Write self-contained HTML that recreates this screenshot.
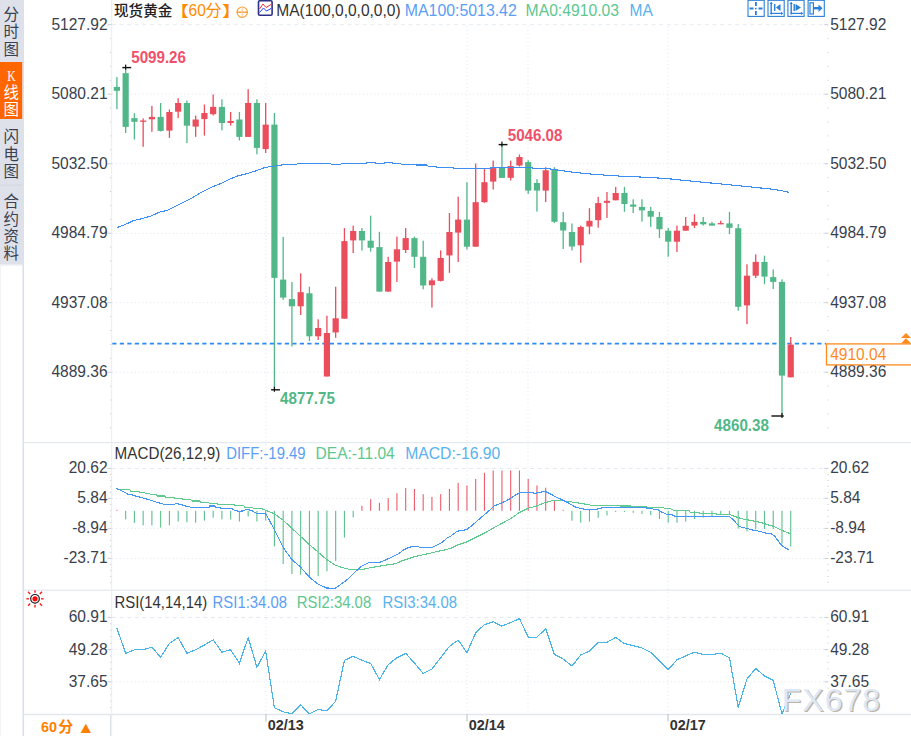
<!DOCTYPE html><html><head><meta charset="utf-8"><title>现货黄金 K线图</title><style>
html,body{margin:0;padding:0;background:#fff;}
body{width:911px;height:736px;overflow:hidden;position:relative;font-family:"Liberation Sans","Noto Sans CJK SC",sans-serif;}
svg{position:absolute;left:0;top:0;}
.side{position:absolute;left:0;top:0;width:22px;background:#dfe1ea;}
.tab{position:absolute;left:0;width:22px;color:#3a4150;font:16px/17.6px "Liberation Sans","Noto Sans CJK SC",sans-serif;text-align:center;}
</style></head><body>
<svg width="911" height="736" viewBox="0 0 911 736">
<rect x="0" y="0" width="23" height="264.5" fill="#dfe1ea"/>
<rect x="0" y="62" width="22.5" height="57" fill="#ff6600"/>
<rect x="0" y="184.3" width="22.6" height="1.8" fill="#d6dae3"/>
<rect x="0" y="264.5" width="23" height="1" fill="#e3e7ee"/>
<rect x="22.4" y="0" width="1.6" height="736" fill="#dce1e9"/>
<rect x="0" y="264" width="0.8" height="472" fill="#eef1f5"/>
<rect x="23.5" y="442" width="887.5" height="1.2" fill="#e4e9f0"/>
<rect x="23.5" y="589.6" width="887.5" height="1.2" fill="#e4e9f0"/>
<rect x="23.5" y="713.8" width="887.5" height="1.4" fill="#e2e7ee"/>
<rect x="111.2" y="0" width="1" height="736" fill="#e8edf4"/>
<rect x="110" y="714" width="1" height="22" fill="#dfe4eb"/>
<line x1="266" y1="26" x2="266" y2="714" stroke="#e3e8ef" stroke-width="1" stroke-dasharray="1.2 2.6"/>
<line x1="467" y1="26" x2="467" y2="714" stroke="#e3e8ef" stroke-width="1" stroke-dasharray="1.2 2.6"/>
<line x1="528" y1="26" x2="528" y2="714" stroke="#e3e8ef" stroke-width="1" stroke-dasharray="1.2 2.6"/>
<line x1="668" y1="26" x2="668" y2="714" stroke="#e3e8ef" stroke-width="1" stroke-dasharray="1.2 2.6"/>
<line x1="112" y1="24.7" x2="828" y2="24.7" stroke="#e6ecf2" stroke-width="1" stroke-dasharray="4 3.6"/>
<line x1="112" y1="94" x2="828" y2="94" stroke="#e3e8ef" stroke-width="1" stroke-dasharray="1.2 2.6"/>
<line x1="112" y1="163.6" x2="828" y2="163.6" stroke="#e3e8ef" stroke-width="1" stroke-dasharray="1.2 2.6"/>
<line x1="112" y1="233.4" x2="828" y2="233.4" stroke="#e3e8ef" stroke-width="1" stroke-dasharray="1.2 2.6"/>
<line x1="112" y1="302.7" x2="828" y2="302.7" stroke="#e3e8ef" stroke-width="1" stroke-dasharray="1.2 2.6"/>
<line x1="112" y1="372.2" x2="828" y2="372.2" stroke="#e3e8ef" stroke-width="1" stroke-dasharray="1.2 2.6"/>
<rect x="107.5" y="24.2" width="4" height="1" fill="#c9ced8"/>
<rect x="824.3" y="24.2" width="4" height="1" fill="#c9ced8"/>
<rect x="110" y="38.1" width="1.2" height="1" fill="#ccd1da"/>
<rect x="827.5" y="38.1" width="1.2" height="1" fill="#ccd1da"/>
<rect x="110" y="52" width="1.2" height="1" fill="#ccd1da"/>
<rect x="827.5" y="52" width="1.2" height="1" fill="#ccd1da"/>
<rect x="110" y="65.9" width="1.2" height="1" fill="#ccd1da"/>
<rect x="827.5" y="65.9" width="1.2" height="1" fill="#ccd1da"/>
<rect x="110" y="79.8" width="1.2" height="1" fill="#ccd1da"/>
<rect x="827.5" y="79.8" width="1.2" height="1" fill="#ccd1da"/>
<rect x="107.5" y="93.7" width="4" height="1" fill="#c9ced8"/>
<rect x="824.3" y="93.7" width="4" height="1" fill="#c9ced8"/>
<rect x="110" y="107.6" width="1.2" height="1" fill="#ccd1da"/>
<rect x="827.5" y="107.6" width="1.2" height="1" fill="#ccd1da"/>
<rect x="110" y="121.5" width="1.2" height="1" fill="#ccd1da"/>
<rect x="827.5" y="121.5" width="1.2" height="1" fill="#ccd1da"/>
<rect x="110" y="135.4" width="1.2" height="1" fill="#ccd1da"/>
<rect x="827.5" y="135.4" width="1.2" height="1" fill="#ccd1da"/>
<rect x="110" y="149.3" width="1.2" height="1" fill="#ccd1da"/>
<rect x="827.5" y="149.3" width="1.2" height="1" fill="#ccd1da"/>
<rect x="107.5" y="163.2" width="4" height="1" fill="#c9ced8"/>
<rect x="824.3" y="163.2" width="4" height="1" fill="#c9ced8"/>
<rect x="110" y="177.1" width="1.2" height="1" fill="#ccd1da"/>
<rect x="827.5" y="177.1" width="1.2" height="1" fill="#ccd1da"/>
<rect x="110" y="191" width="1.2" height="1" fill="#ccd1da"/>
<rect x="827.5" y="191" width="1.2" height="1" fill="#ccd1da"/>
<rect x="110" y="204.9" width="1.2" height="1" fill="#ccd1da"/>
<rect x="827.5" y="204.9" width="1.2" height="1" fill="#ccd1da"/>
<rect x="110" y="218.8" width="1.2" height="1" fill="#ccd1da"/>
<rect x="827.5" y="218.8" width="1.2" height="1" fill="#ccd1da"/>
<rect x="107.5" y="232.7" width="4" height="1" fill="#c9ced8"/>
<rect x="824.3" y="232.7" width="4" height="1" fill="#c9ced8"/>
<rect x="110" y="246.6" width="1.2" height="1" fill="#ccd1da"/>
<rect x="827.5" y="246.6" width="1.2" height="1" fill="#ccd1da"/>
<rect x="110" y="260.5" width="1.2" height="1" fill="#ccd1da"/>
<rect x="827.5" y="260.5" width="1.2" height="1" fill="#ccd1da"/>
<rect x="110" y="274.4" width="1.2" height="1" fill="#ccd1da"/>
<rect x="827.5" y="274.4" width="1.2" height="1" fill="#ccd1da"/>
<rect x="110" y="288.3" width="1.2" height="1" fill="#ccd1da"/>
<rect x="827.5" y="288.3" width="1.2" height="1" fill="#ccd1da"/>
<rect x="107.5" y="302.2" width="4" height="1" fill="#c9ced8"/>
<rect x="824.3" y="302.2" width="4" height="1" fill="#c9ced8"/>
<rect x="110" y="316.1" width="1.2" height="1" fill="#ccd1da"/>
<rect x="827.5" y="316.1" width="1.2" height="1" fill="#ccd1da"/>
<rect x="110" y="330" width="1.2" height="1" fill="#ccd1da"/>
<rect x="827.5" y="330" width="1.2" height="1" fill="#ccd1da"/>
<rect x="110" y="343.9" width="1.2" height="1" fill="#ccd1da"/>
<rect x="827.5" y="343.9" width="1.2" height="1" fill="#ccd1da"/>
<rect x="110" y="357.8" width="1.2" height="1" fill="#ccd1da"/>
<rect x="827.5" y="357.8" width="1.2" height="1" fill="#ccd1da"/>
<rect x="107.5" y="371.7" width="4" height="1" fill="#c9ced8"/>
<rect x="824.3" y="371.7" width="4" height="1" fill="#c9ced8"/>
<rect x="110" y="385.6" width="1.2" height="1" fill="#ccd1da"/>
<rect x="827.5" y="385.6" width="1.2" height="1" fill="#ccd1da"/>
<rect x="110" y="399.5" width="1.2" height="1" fill="#ccd1da"/>
<rect x="827.5" y="399.5" width="1.2" height="1" fill="#ccd1da"/>
<rect x="110" y="413.4" width="1.2" height="1" fill="#ccd1da"/>
<rect x="827.5" y="413.4" width="1.2" height="1" fill="#ccd1da"/>
<rect x="110" y="427.3" width="1.2" height="1" fill="#ccd1da"/>
<rect x="827.5" y="427.3" width="1.2" height="1" fill="#ccd1da"/>
<line x1="112" y1="468.4" x2="828" y2="468.4" stroke="#e3e8ef" stroke-width="1" stroke-dasharray="4 3.6"/>
<line x1="112" y1="498.4" x2="828" y2="498.4" stroke="#e3e8ef" stroke-width="1" stroke-dasharray="1.2 2.6"/>
<line x1="112" y1="528.4" x2="828" y2="528.4" stroke="#e3e8ef" stroke-width="1" stroke-dasharray="1.2 2.6"/>
<line x1="112" y1="558.4" x2="828" y2="558.4" stroke="#e3e8ef" stroke-width="1" stroke-dasharray="1.2 2.6"/>
<rect x="107.5" y="467.9" width="4" height="1" fill="#c9ced8"/>
<rect x="824.3" y="467.9" width="4" height="1" fill="#c9ced8"/>
<rect x="110" y="473.9" width="1.2" height="1" fill="#ccd1da"/>
<rect x="827.5" y="473.9" width="1.2" height="1" fill="#ccd1da"/>
<rect x="110" y="479.9" width="1.2" height="1" fill="#ccd1da"/>
<rect x="827.5" y="479.9" width="1.2" height="1" fill="#ccd1da"/>
<rect x="110" y="485.9" width="1.2" height="1" fill="#ccd1da"/>
<rect x="827.5" y="485.9" width="1.2" height="1" fill="#ccd1da"/>
<rect x="110" y="491.9" width="1.2" height="1" fill="#ccd1da"/>
<rect x="827.5" y="491.9" width="1.2" height="1" fill="#ccd1da"/>
<rect x="107.5" y="497.9" width="4" height="1" fill="#c9ced8"/>
<rect x="824.3" y="497.9" width="4" height="1" fill="#c9ced8"/>
<rect x="110" y="503.9" width="1.2" height="1" fill="#ccd1da"/>
<rect x="827.5" y="503.9" width="1.2" height="1" fill="#ccd1da"/>
<rect x="110" y="509.9" width="1.2" height="1" fill="#ccd1da"/>
<rect x="827.5" y="509.9" width="1.2" height="1" fill="#ccd1da"/>
<rect x="110" y="515.9" width="1.2" height="1" fill="#ccd1da"/>
<rect x="827.5" y="515.9" width="1.2" height="1" fill="#ccd1da"/>
<rect x="110" y="521.9" width="1.2" height="1" fill="#ccd1da"/>
<rect x="827.5" y="521.9" width="1.2" height="1" fill="#ccd1da"/>
<rect x="107.5" y="527.9" width="4" height="1" fill="#c9ced8"/>
<rect x="824.3" y="527.9" width="4" height="1" fill="#c9ced8"/>
<rect x="110" y="533.9" width="1.2" height="1" fill="#ccd1da"/>
<rect x="827.5" y="533.9" width="1.2" height="1" fill="#ccd1da"/>
<rect x="110" y="539.9" width="1.2" height="1" fill="#ccd1da"/>
<rect x="827.5" y="539.9" width="1.2" height="1" fill="#ccd1da"/>
<rect x="110" y="545.9" width="1.2" height="1" fill="#ccd1da"/>
<rect x="827.5" y="545.9" width="1.2" height="1" fill="#ccd1da"/>
<rect x="110" y="551.9" width="1.2" height="1" fill="#ccd1da"/>
<rect x="827.5" y="551.9" width="1.2" height="1" fill="#ccd1da"/>
<rect x="107.5" y="557.9" width="4" height="1" fill="#c9ced8"/>
<rect x="824.3" y="557.9" width="4" height="1" fill="#c9ced8"/>
<rect x="110" y="563.9" width="1.2" height="1" fill="#ccd1da"/>
<rect x="827.5" y="563.9" width="1.2" height="1" fill="#ccd1da"/>
<rect x="110" y="569.9" width="1.2" height="1" fill="#ccd1da"/>
<rect x="827.5" y="569.9" width="1.2" height="1" fill="#ccd1da"/>
<rect x="110" y="575.9" width="1.2" height="1" fill="#ccd1da"/>
<rect x="827.5" y="575.9" width="1.2" height="1" fill="#ccd1da"/>
<rect x="110" y="581.9" width="1.2" height="1" fill="#ccd1da"/>
<rect x="827.5" y="581.9" width="1.2" height="1" fill="#ccd1da"/>
<line x1="112" y1="617.4" x2="828" y2="617.4" stroke="#e3e8ef" stroke-width="1" stroke-dasharray="4 3.6"/>
<line x1="112" y1="649.6" x2="828" y2="649.6" stroke="#e3e8ef" stroke-width="1" stroke-dasharray="1.2 2.6"/>
<line x1="112" y1="681.9" x2="828" y2="681.9" stroke="#e3e8ef" stroke-width="1" stroke-dasharray="1.2 2.6"/>
<rect x="107.5" y="616.9" width="4" height="1" fill="#c9ced8"/>
<rect x="824.3" y="616.9" width="4" height="1" fill="#c9ced8"/>
<rect x="110" y="623.34" width="1.2" height="1" fill="#ccd1da"/>
<rect x="827.5" y="623.34" width="1.2" height="1" fill="#ccd1da"/>
<rect x="110" y="629.78" width="1.2" height="1" fill="#ccd1da"/>
<rect x="827.5" y="629.78" width="1.2" height="1" fill="#ccd1da"/>
<rect x="110" y="636.22" width="1.2" height="1" fill="#ccd1da"/>
<rect x="827.5" y="636.22" width="1.2" height="1" fill="#ccd1da"/>
<rect x="110" y="642.66" width="1.2" height="1" fill="#ccd1da"/>
<rect x="827.5" y="642.66" width="1.2" height="1" fill="#ccd1da"/>
<rect x="107.5" y="649.1" width="4" height="1" fill="#c9ced8"/>
<rect x="824.3" y="649.1" width="4" height="1" fill="#c9ced8"/>
<rect x="110" y="655.54" width="1.2" height="1" fill="#ccd1da"/>
<rect x="827.5" y="655.54" width="1.2" height="1" fill="#ccd1da"/>
<rect x="110" y="661.98" width="1.2" height="1" fill="#ccd1da"/>
<rect x="827.5" y="661.98" width="1.2" height="1" fill="#ccd1da"/>
<rect x="110" y="668.42" width="1.2" height="1" fill="#ccd1da"/>
<rect x="827.5" y="668.42" width="1.2" height="1" fill="#ccd1da"/>
<rect x="110" y="674.86" width="1.2" height="1" fill="#ccd1da"/>
<rect x="827.5" y="674.86" width="1.2" height="1" fill="#ccd1da"/>
<rect x="107.5" y="681.3" width="4" height="1" fill="#c9ced8"/>
<rect x="824.3" y="681.3" width="4" height="1" fill="#c9ced8"/>
<rect x="110" y="687.74" width="1.2" height="1" fill="#ccd1da"/>
<rect x="827.5" y="687.74" width="1.2" height="1" fill="#ccd1da"/>
<rect x="110" y="694.18" width="1.2" height="1" fill="#ccd1da"/>
<rect x="827.5" y="694.18" width="1.2" height="1" fill="#ccd1da"/>
<rect x="110" y="700.62" width="1.2" height="1" fill="#ccd1da"/>
<rect x="827.5" y="700.62" width="1.2" height="1" fill="#ccd1da"/>
<rect x="110" y="707.06" width="1.2" height="1" fill="#ccd1da"/>
<rect x="827.5" y="707.06" width="1.2" height="1" fill="#ccd1da"/>
<line x1="112.3" y1="343.6" x2="826" y2="343.6" stroke="#2b8af5" stroke-width="1.8" stroke-dasharray="4.2 3.3"/>
<rect x="116.25" y="77.1" width="1.3" height="32.1" fill="#52b788"/>
<rect x="113.8" y="86.9" width="6.2" height="3.9" fill="#52b788"/>
<rect x="125" y="68.6" width="1.3" height="64.4" fill="#52b788"/>
<rect x="122.55" y="73.2" width="6.2" height="53.7" fill="#52b788"/>
<rect x="133.75" y="113.2" width="1.3" height="26.3" fill="#52b788"/>
<rect x="131.3" y="118.1" width="6.2" height="3.7" fill="#52b788"/>
<rect x="142.5" y="118.4" width="1.3" height="28.4" fill="#ea4d5c"/>
<rect x="140.05" y="120.5" width="6.2" height="1.3" fill="#ea4d5c"/>
<rect x="151.25" y="105.9" width="1.3" height="25.9" fill="#ea4d5c"/>
<rect x="148.8" y="116.9" width="6.2" height="2.4" fill="#ea4d5c"/>
<rect x="160" y="103" width="1.3" height="28.5" fill="#52b788"/>
<rect x="157.56" y="116.9" width="6.2" height="14" fill="#52b788"/>
<rect x="168.76" y="109.5" width="1.3" height="28.4" fill="#ea4d5c"/>
<rect x="166.31" y="112" width="6.2" height="18.6" fill="#ea4d5c"/>
<rect x="177.51" y="98.2" width="1.3" height="19.9" fill="#ea4d5c"/>
<rect x="175.06" y="103" width="6.2" height="8.7" fill="#ea4d5c"/>
<rect x="186.26" y="100.6" width="1.3" height="42.5" fill="#52b788"/>
<rect x="183.81" y="103" width="6.2" height="22.7" fill="#52b788"/>
<rect x="195.01" y="115.6" width="1.3" height="21.2" fill="#ea4d5c"/>
<rect x="192.56" y="119.5" width="6.2" height="7.1" fill="#ea4d5c"/>
<rect x="203.76" y="104.5" width="1.3" height="31.1" fill="#ea4d5c"/>
<rect x="201.31" y="113" width="6.2" height="6.1" fill="#ea4d5c"/>
<rect x="212.51" y="94.4" width="1.3" height="21.1" fill="#ea4d5c"/>
<rect x="210.06" y="106.9" width="6.2" height="7.3" fill="#ea4d5c"/>
<rect x="221.26" y="99.3" width="1.3" height="31.1" fill="#52b788"/>
<rect x="218.81" y="106.9" width="6.2" height="16.1" fill="#52b788"/>
<rect x="230.01" y="112" width="1.3" height="13.5" fill="#ea4d5c"/>
<rect x="227.56" y="121" width="6.2" height="2" fill="#ea4d5c"/>
<rect x="238.76" y="112" width="1.3" height="28.5" fill="#52b788"/>
<rect x="236.31" y="119.5" width="6.2" height="17.4" fill="#52b788"/>
<rect x="247.51" y="89.2" width="1.3" height="47.7" fill="#ea4d5c"/>
<rect x="245.06" y="103" width="6.2" height="33.9" fill="#ea4d5c"/>
<rect x="256.27" y="99.3" width="1.3" height="55" fill="#52b788"/>
<rect x="253.82" y="103" width="6.2" height="44.9" fill="#52b788"/>
<rect x="265.02" y="103" width="1.3" height="50" fill="#ea4d5c"/>
<rect x="262.57" y="124.6" width="6.2" height="24.5" fill="#ea4d5c"/>
<rect x="273.77" y="113" width="1.3" height="276.6" fill="#52b788"/>
<rect x="271.32" y="124.6" width="6.2" height="153.3" fill="#52b788"/>
<rect x="282.52" y="236.8" width="1.3" height="63" fill="#52b788"/>
<rect x="280.07" y="279.6" width="6.2" height="18" fill="#52b788"/>
<rect x="291.27" y="282" width="1.3" height="64.5" fill="#52b788"/>
<rect x="288.82" y="299.1" width="6.2" height="7.2" fill="#52b788"/>
<rect x="300.02" y="273.3" width="1.3" height="41.7" fill="#ea4d5c"/>
<rect x="297.57" y="292.2" width="6.2" height="14.1" fill="#ea4d5c"/>
<rect x="308.77" y="286.7" width="1.3" height="54.3" fill="#52b788"/>
<rect x="306.32" y="293.3" width="6.2" height="43" fill="#52b788"/>
<rect x="317.52" y="319.3" width="1.3" height="20.7" fill="#ea4d5c"/>
<rect x="315.07" y="328" width="6.2" height="8.3" fill="#ea4d5c"/>
<rect x="326.27" y="315.7" width="1.3" height="60.8" fill="#ea4d5c"/>
<rect x="323.82" y="333" width="6.2" height="43.5" fill="#ea4d5c"/>
<rect x="335.02" y="286.7" width="1.3" height="51.1" fill="#ea4d5c"/>
<rect x="332.57" y="318.3" width="6.2" height="14.1" fill="#ea4d5c"/>
<rect x="343.78" y="228.1" width="1.3" height="90.6" fill="#ea4d5c"/>
<rect x="341.33" y="241.1" width="6.2" height="77.6" fill="#ea4d5c"/>
<rect x="352.53" y="225.7" width="1.3" height="27.3" fill="#ea4d5c"/>
<rect x="350.08" y="231" width="6.2" height="9.4" fill="#ea4d5c"/>
<rect x="361.28" y="228.1" width="1.3" height="22.4" fill="#52b788"/>
<rect x="358.83" y="231" width="6.2" height="9.4" fill="#52b788"/>
<rect x="370.03" y="215.7" width="1.3" height="35.9" fill="#52b788"/>
<rect x="367.58" y="240.7" width="6.2" height="7.1" fill="#52b788"/>
<rect x="378.78" y="231.8" width="1.3" height="59.8" fill="#52b788"/>
<rect x="376.33" y="247.1" width="6.2" height="44.5" fill="#52b788"/>
<rect x="387.53" y="256.8" width="1.3" height="34.8" fill="#ea4d5c"/>
<rect x="385.08" y="262" width="6.2" height="29.6" fill="#ea4d5c"/>
<rect x="396.28" y="236.6" width="1.3" height="45.3" fill="#ea4d5c"/>
<rect x="393.83" y="249.3" width="6.2" height="12.3" fill="#ea4d5c"/>
<rect x="405.03" y="228.1" width="1.3" height="24.9" fill="#ea4d5c"/>
<rect x="402.58" y="238.1" width="6.2" height="11.9" fill="#ea4d5c"/>
<rect x="413.78" y="236.6" width="1.3" height="31.4" fill="#52b788"/>
<rect x="411.33" y="238.1" width="6.2" height="18.7" fill="#52b788"/>
<rect x="422.53" y="240.7" width="1.3" height="48.6" fill="#52b788"/>
<rect x="420.08" y="256.8" width="6.2" height="28.7" fill="#52b788"/>
<rect x="431.29" y="278.3" width="1.3" height="29.3" fill="#ea4d5c"/>
<rect x="428.84" y="280.4" width="6.2" height="4.8" fill="#ea4d5c"/>
<rect x="440.04" y="250.4" width="1.3" height="31.1" fill="#ea4d5c"/>
<rect x="437.59" y="258" width="6.2" height="22.9" fill="#ea4d5c"/>
<rect x="448.79" y="213" width="1.3" height="59.8" fill="#ea4d5c"/>
<rect x="446.34" y="232" width="6.2" height="23.4" fill="#ea4d5c"/>
<rect x="457.54" y="196.7" width="1.3" height="65.3" fill="#ea4d5c"/>
<rect x="455.09" y="219.6" width="6.2" height="13" fill="#ea4d5c"/>
<rect x="466.29" y="182.2" width="1.3" height="67.4" fill="#52b788"/>
<rect x="463.84" y="219.6" width="6.2" height="27.1" fill="#52b788"/>
<rect x="475.04" y="163.5" width="1.3" height="83.2" fill="#ea4d5c"/>
<rect x="472.59" y="202.2" width="6.2" height="44.5" fill="#ea4d5c"/>
<rect x="483.79" y="169.1" width="1.3" height="33.7" fill="#ea4d5c"/>
<rect x="481.34" y="182.2" width="6.2" height="20" fill="#ea4d5c"/>
<rect x="492.54" y="160.6" width="1.3" height="28.9" fill="#ea4d5c"/>
<rect x="490.09" y="168.1" width="6.2" height="13.5" fill="#ea4d5c"/>
<rect x="501.29" y="144" width="1.3" height="33.9" fill="#52b788"/>
<rect x="498.84" y="167.8" width="6.2" height="10.1" fill="#52b788"/>
<rect x="510.04" y="160.6" width="1.3" height="19.9" fill="#ea4d5c"/>
<rect x="507.59" y="166.1" width="6.2" height="11.7" fill="#ea4d5c"/>
<rect x="518.8" y="154.5" width="1.3" height="12" fill="#ea4d5c"/>
<rect x="516.35" y="157" width="6.2" height="8.5" fill="#ea4d5c"/>
<rect x="527.55" y="160.2" width="1.3" height="33.7" fill="#52b788"/>
<rect x="525.1" y="162.1" width="6.2" height="28.5" fill="#52b788"/>
<rect x="536.3" y="179.2" width="1.3" height="32.4" fill="#52b788"/>
<rect x="533.85" y="183" width="6.2" height="7.6" fill="#52b788"/>
<rect x="545.05" y="167.2" width="1.3" height="34.8" fill="#ea4d5c"/>
<rect x="542.6" y="170.3" width="6.2" height="20.3" fill="#ea4d5c"/>
<rect x="553.8" y="167.2" width="1.3" height="55.8" fill="#52b788"/>
<rect x="551.35" y="169.7" width="6.2" height="52.1" fill="#52b788"/>
<rect x="562.55" y="212.1" width="1.3" height="36.9" fill="#52b788"/>
<rect x="560.1" y="222.2" width="6.2" height="8.3" fill="#52b788"/>
<rect x="571.3" y="223.5" width="1.3" height="27" fill="#52b788"/>
<rect x="568.85" y="232" width="6.2" height="14.5" fill="#52b788"/>
<rect x="580.05" y="225.6" width="1.3" height="37.2" fill="#ea4d5c"/>
<rect x="577.6" y="227" width="6.2" height="18.3" fill="#ea4d5c"/>
<rect x="588.8" y="208.2" width="1.3" height="26" fill="#ea4d5c"/>
<rect x="586.35" y="220.8" width="6.2" height="5.7" fill="#ea4d5c"/>
<rect x="597.55" y="196.9" width="1.3" height="30.8" fill="#ea4d5c"/>
<rect x="595.1" y="203.1" width="6.2" height="17.1" fill="#ea4d5c"/>
<rect x="606.31" y="192" width="1.3" height="25.9" fill="#ea4d5c"/>
<rect x="603.86" y="200.8" width="6.2" height="2" fill="#ea4d5c"/>
<rect x="615.06" y="186.9" width="1.3" height="13.4" fill="#ea4d5c"/>
<rect x="612.61" y="193" width="6.2" height="7.3" fill="#ea4d5c"/>
<rect x="623.81" y="186.9" width="1.3" height="24.9" fill="#52b788"/>
<rect x="621.36" y="193" width="6.2" height="11" fill="#52b788"/>
<rect x="632.56" y="199.3" width="1.3" height="13.7" fill="#52b788"/>
<rect x="630.11" y="204.5" width="6.2" height="2.2" fill="#52b788"/>
<rect x="641.31" y="199.3" width="1.3" height="22.3" fill="#52b788"/>
<rect x="638.86" y="206.9" width="6.2" height="3.5" fill="#52b788"/>
<rect x="650.06" y="206.9" width="1.3" height="20" fill="#52b788"/>
<rect x="647.61" y="211" width="6.2" height="5.7" fill="#52b788"/>
<rect x="658.81" y="212" width="1.3" height="26" fill="#52b788"/>
<rect x="656.36" y="217" width="6.2" height="12.2" fill="#52b788"/>
<rect x="667.56" y="228" width="1.3" height="28.8" fill="#52b788"/>
<rect x="665.11" y="230.7" width="6.2" height="11" fill="#52b788"/>
<rect x="676.31" y="225.6" width="1.3" height="26.3" fill="#ea4d5c"/>
<rect x="673.86" y="230.7" width="6.2" height="11" fill="#ea4d5c"/>
<rect x="685.06" y="217" width="1.3" height="13.7" fill="#ea4d5c"/>
<rect x="682.61" y="225.8" width="6.2" height="4.9" fill="#ea4d5c"/>
<rect x="693.82" y="214.3" width="1.3" height="13.7" fill="#ea4d5c"/>
<rect x="691.37" y="221.9" width="6.2" height="3.7" fill="#ea4d5c"/>
<rect x="702.57" y="217" width="1.3" height="8.6" fill="#52b788"/>
<rect x="700.12" y="221.9" width="6.2" height="2.4" fill="#52b788"/>
<rect x="711.32" y="221.9" width="1.3" height="3.7" fill="#52b788"/>
<rect x="708.87" y="223.4" width="6.2" height="2.2" fill="#52b788"/>
<rect x="720.07" y="220.7" width="1.3" height="3.6" fill="#ea4d5c"/>
<rect x="717.62" y="223.1" width="6.2" height="1.2" fill="#ea4d5c"/>
<rect x="728.82" y="211.9" width="1.3" height="22.2" fill="#52b788"/>
<rect x="726.37" y="223.4" width="6.2" height="4.4" fill="#52b788"/>
<rect x="737.57" y="224.1" width="1.3" height="86.5" fill="#52b788"/>
<rect x="735.12" y="228.2" width="6.2" height="78.6" fill="#52b788"/>
<rect x="746.32" y="264.3" width="1.3" height="59.9" fill="#ea4d5c"/>
<rect x="743.87" y="275.7" width="6.2" height="29.7" fill="#ea4d5c"/>
<rect x="755.07" y="254.3" width="1.3" height="23.7" fill="#ea4d5c"/>
<rect x="752.62" y="261.9" width="6.2" height="13.8" fill="#ea4d5c"/>
<rect x="763.82" y="255.7" width="1.3" height="28.5" fill="#52b788"/>
<rect x="761.37" y="261.9" width="6.2" height="14.7" fill="#52b788"/>
<rect x="772.57" y="269.5" width="1.3" height="19.5" fill="#52b788"/>
<rect x="770.12" y="277.1" width="6.2" height="4.8" fill="#52b788"/>
<rect x="781.33" y="279.3" width="1.3" height="136.1" fill="#52b788"/>
<rect x="778.88" y="281.9" width="6.2" height="93.7" fill="#52b788"/>
<rect x="790.08" y="337" width="1.3" height="40.3" fill="#ea4d5c"/>
<rect x="787.63" y="344.6" width="6.2" height="32.7" fill="#ea4d5c"/>
<polyline shape-rendering="crispEdges" fill="none" stroke="#3d8ef0" stroke-width="1.1" points="116.9,227.5 124.8,224.7 133.7,220.5 141.6,218.8 151.5,215.8 159.4,212.2 167.3,210.3 175.2,206.3 183.1,202.4 193,197.4 200.9,192.5 210.8,187.5 220.7,183.6 228.6,179.6 238.4,175.7 248.3,173.3 256.2,170.7 265.1,167.4 274,166.2 281.9,164.9 296,164.9 297,163.8 331,163.8 332,164.9 340,164.9 341,163.8 366,163.8 367,162.3 375,162.3 376,163.8 384,163.8 385,162.3 392,162.3 393,163.8 401,163.8 402,164.9 427,165 428,166.1 436,166.1 437,167.3 453,167.3 454,168.5 490,168.5 491,167.3 532,167.3 533,168.5 548,168.6 560,170.4 576,172.6 594,174.4 620,176.1 646,177.3 665,178.4 691.7,181.1 718,183.7 744.4,186.3 770.7,189 780,190.4 789.5,192.4"/>
<rect x="122.35" y="66.9" width="8.8" height="1.4" fill="#111"/>
<rect x="125.05" y="64.6" width="1.2" height="5" fill="#111"/>
<rect x="498.64" y="143.9" width="8.8" height="1.4" fill="#111"/>
<rect x="501.34" y="141.6" width="1.2" height="5" fill="#111"/>
<rect x="271.12" y="389.1" width="8.8" height="1.4" fill="#111"/>
<rect x="273.82" y="386.8" width="1.2" height="5" fill="#111"/>
<rect x="771.38" y="415.3" width="12.4" height="1.4" fill="#111"/>
<rect x="781.38" y="413" width="1.2" height="5" fill="#111"/>
<rect x="116.35" y="509.8" width="1.1" height="1" fill="#ec5c6c"/>
<rect x="125.1" y="510.8" width="1.1" height="8.6" fill="#5cbf8c"/>
<rect x="133.85" y="510.8" width="1.1" height="12.1" fill="#5cbf8c"/>
<rect x="142.6" y="510.8" width="1.1" height="14.5" fill="#5cbf8c"/>
<rect x="151.35" y="510.8" width="1.1" height="14.5" fill="#5cbf8c"/>
<rect x="160.1" y="510.8" width="1.1" height="16.8" fill="#5cbf8c"/>
<rect x="168.86" y="510.8" width="1.1" height="14.5" fill="#5cbf8c"/>
<rect x="177.61" y="510.8" width="1.1" height="10.7" fill="#5cbf8c"/>
<rect x="186.36" y="510.8" width="1.1" height="11.5" fill="#5cbf8c"/>
<rect x="195.11" y="510.8" width="1.1" height="11.9" fill="#5cbf8c"/>
<rect x="203.86" y="510.8" width="1.1" height="9.8" fill="#5cbf8c"/>
<rect x="212.61" y="510.8" width="1.1" height="6.8" fill="#5cbf8c"/>
<rect x="221.36" y="510.8" width="1.1" height="8.6" fill="#5cbf8c"/>
<rect x="230.11" y="510.8" width="1.1" height="8.6" fill="#5cbf8c"/>
<rect x="238.86" y="510.8" width="1.1" height="10.7" fill="#5cbf8c"/>
<rect x="247.61" y="510.8" width="1.1" height="5.7" fill="#5cbf8c"/>
<rect x="256.37" y="510.8" width="1.1" height="10.7" fill="#5cbf8c"/>
<rect x="265.12" y="510.8" width="1.1" height="9.7" fill="#5cbf8c"/>
<rect x="273.87" y="510.8" width="1.1" height="35.6" fill="#5cbf8c"/>
<rect x="282.62" y="510.8" width="1.1" height="53.1" fill="#5cbf8c"/>
<rect x="291.37" y="510.8" width="1.1" height="63.2" fill="#5cbf8c"/>
<rect x="300.12" y="510.8" width="1.1" height="64" fill="#5cbf8c"/>
<rect x="308.87" y="510.8" width="1.1" height="67.2" fill="#5cbf8c"/>
<rect x="317.62" y="510.8" width="1.1" height="65.4" fill="#5cbf8c"/>
<rect x="326.37" y="510.8" width="1.1" height="60.5" fill="#5cbf8c"/>
<rect x="335.12" y="510.8" width="1.1" height="50.3" fill="#5cbf8c"/>
<rect x="343.88" y="510.8" width="1.1" height="26.8" fill="#5cbf8c"/>
<rect x="352.63" y="510.8" width="1.1" height="6.6" fill="#5cbf8c"/>
<rect x="361.38" y="505.8" width="1.1" height="5" fill="#ec5c6c"/>
<rect x="370.13" y="499.3" width="1.1" height="11.5" fill="#ec5c6c"/>
<rect x="378.88" y="502.8" width="1.1" height="8" fill="#ec5c6c"/>
<rect x="387.63" y="498.1" width="1.1" height="12.7" fill="#ec5c6c"/>
<rect x="396.38" y="493.2" width="1.1" height="17.6" fill="#ec5c6c"/>
<rect x="405.13" y="487.9" width="1.1" height="22.9" fill="#ec5c6c"/>
<rect x="413.88" y="489" width="1.1" height="21.8" fill="#ec5c6c"/>
<rect x="422.63" y="494.2" width="1.1" height="16.6" fill="#ec5c6c"/>
<rect x="431.39" y="496.9" width="1.1" height="13.9" fill="#ec5c6c"/>
<rect x="440.14" y="494.2" width="1.1" height="16.6" fill="#ec5c6c"/>
<rect x="448.89" y="489" width="1.1" height="21.8" fill="#ec5c6c"/>
<rect x="457.64" y="482.8" width="1.1" height="28" fill="#ec5c6c"/>
<rect x="466.39" y="485.5" width="1.1" height="25.3" fill="#ec5c6c"/>
<rect x="475.14" y="479" width="1.1" height="31.8" fill="#ec5c6c"/>
<rect x="483.89" y="472.8" width="1.1" height="38" fill="#ec5c6c"/>
<rect x="492.64" y="470.5" width="1.1" height="40.3" fill="#ec5c6c"/>
<rect x="501.39" y="470.5" width="1.1" height="40.3" fill="#ec5c6c"/>
<rect x="510.14" y="470.5" width="1.1" height="40.3" fill="#ec5c6c"/>
<rect x="518.9" y="470.5" width="1.1" height="40.3" fill="#ec5c6c"/>
<rect x="527.65" y="479" width="1.1" height="31.8" fill="#ec5c6c"/>
<rect x="536.4" y="485.5" width="1.1" height="25.3" fill="#ec5c6c"/>
<rect x="545.15" y="487.7" width="1.1" height="23.1" fill="#ec5c6c"/>
<rect x="553.9" y="500.4" width="1.1" height="10.4" fill="#ec5c6c"/>
<rect x="562.65" y="509.8" width="1.1" height="1" fill="#ec5c6c"/>
<rect x="571.4" y="510.8" width="1.1" height="9.9" fill="#5cbf8c"/>
<rect x="580.15" y="510.8" width="1.1" height="11.9" fill="#5cbf8c"/>
<rect x="588.9" y="510.8" width="1.1" height="10.8" fill="#5cbf8c"/>
<rect x="597.65" y="510.8" width="1.1" height="7" fill="#5cbf8c"/>
<rect x="606.41" y="510.8" width="1.1" height="4.7" fill="#5cbf8c"/>
<rect x="615.16" y="510.8" width="1.1" height="1.2" fill="#5cbf8c"/>
<rect x="623.91" y="510.8" width="1.1" height="1.2" fill="#5cbf8c"/>
<rect x="632.66" y="510.8" width="1.1" height="2" fill="#5cbf8c"/>
<rect x="641.41" y="510.8" width="1.1" height="3.1" fill="#5cbf8c"/>
<rect x="650.16" y="510.8" width="1.1" height="4.3" fill="#5cbf8c"/>
<rect x="658.91" y="510.8" width="1.1" height="8.2" fill="#5cbf8c"/>
<rect x="667.66" y="510.8" width="1.1" height="11.9" fill="#5cbf8c"/>
<rect x="676.41" y="510.8" width="1.1" height="11.9" fill="#5cbf8c"/>
<rect x="685.16" y="510.8" width="1.1" height="10.8" fill="#5cbf8c"/>
<rect x="693.92" y="510.8" width="1.1" height="8.2" fill="#5cbf8c"/>
<rect x="702.67" y="510.8" width="1.1" height="6.8" fill="#5cbf8c"/>
<rect x="711.42" y="510.8" width="1.1" height="5.4" fill="#5cbf8c"/>
<rect x="720.17" y="510.8" width="1.1" height="3.9" fill="#5cbf8c"/>
<rect x="728.92" y="510.8" width="1.1" height="3.9" fill="#5cbf8c"/>
<rect x="737.67" y="510.8" width="1.1" height="17.8" fill="#5cbf8c"/>
<rect x="746.42" y="510.8" width="1.1" height="20.7" fill="#5cbf8c"/>
<rect x="755.17" y="510.8" width="1.1" height="18.5" fill="#5cbf8c"/>
<rect x="763.92" y="510.8" width="1.1" height="18.2" fill="#5cbf8c"/>
<rect x="772.67" y="510.8" width="1.1" height="18.2" fill="#5cbf8c"/>
<rect x="781.43" y="510.8" width="1.1" height="33" fill="#5cbf8c"/>
<rect x="790.18" y="510.8" width="1.1" height="35.7" fill="#5cbf8c"/>
<polyline shape-rendering="crispEdges" fill="none" stroke="#5fc98f" stroke-width="1.1" points="116.4,488.7 121.9,489.7 129.8,489.9 130.8,491.1 138.7,491.1 139.7,492.4 144.6,492.4 145.6,493.5 149.5,493.5 151,494.8 156.5,494.8 157.5,496 164.9,496 165.9,497.3 173.8,497.3 174.7,498.5 182.2,498.5 183.1,499.8 191,499.8 192,501 199.9,501 200.4,502.4 208.8,502.4 209.3,503.5 217.2,503.5 218.2,504.8 234.5,504.8 235.5,505.8 243.9,505.8 244.4,507.3 252.3,507.3 253.3,508.6 261.2,508.6 266.1,510.3 274.6,514 283.1,520.2 291.7,528.1 300.2,536.1 309.4,544.6 318,552 327.1,559.9 335.5,565.2 341.9,567.5 349.8,569.5 356.4,569.8 362.9,569.3 369.5,567.9 382.7,565.6 395.9,563.6 402.5,560.6 415.6,556.4 428.8,553.5 440,550.9 445.5,549.8 451,548.2 457.6,544.9 466.3,542.1 475.1,537.7 483.9,533.4 492.7,528.4 501.5,523.5 510.3,518.8 519,512.8 527.8,508.4 535.8,506.2 543.7,503.1 551.6,500.8 563.5,500.8 572.7,502.1 584.6,504 593.8,505.7 645.7,506.2 646.9,507.3 663.2,507.3 664.4,508.5 669.9,508.5 674.7,510.9 689.2,510.9 690.4,512.3 698.8,512.3 700,513.5 715.7,513.5 717,514.6 730.2,514.6 735.1,516.6 741.7,518.8 748.3,519.9 754.9,521.3 761.5,522.7 768.1,524.9 773.5,526.2 781.2,530.1 790.6,533.9"/>
<polyline shape-rendering="crispEdges" fill="none" stroke="#4595f2" stroke-width="1.1" points="116.4,488.7 119.9,489.9 122.9,491.4 125.8,492.8 127.8,494.3 131.8,494.8 135.7,496 140.7,497.3 144.6,498.6 149.5,499.8 153.5,501.2 157.5,502.5 165.4,504.7 172.3,504.7 176.2,503.7 180.2,504.2 185.1,505.9 191,507.2 208.8,507.6 209.8,506 214.8,506 215.8,507.5 220.2,507.5 221.2,508.6 232.1,508.6 234.5,510.3 238.5,511.2 242.4,511 245.4,509.8 248.9,509.8 252.3,511 256.3,513.2 265.2,513.5 267.1,516.2 274.6,530 283.1,547.2 291.7,559.5 300.2,566.8 309.4,577.2 318,584 326.5,588 335.5,588.2 340.6,584.4 343.2,582.7 349.8,577.4 356.4,570.8 361.6,566.2 369.5,562.3 380,562.3 389.3,558.3 398.5,553.7 403.8,549.8 409,547.4 414.3,546.1 419.6,547.1 432.8,547.1 442.2,542.5 446.6,538.3 451,535.9 456.5,531.7 458.7,530.9 466.3,529.7 471.8,525.7 479.5,518.8 488.3,511.4 493.8,506.2 500.4,503.4 505.9,501 510.3,498.6 514.6,495.5 519,493.1 521.2,492.4 531.9,492.4 534.5,493.4 539.8,492.5 545,491.2 550.3,493.8 555.6,496.9 562.2,499.8 568.7,503.1 575.3,507 581.9,508.7 589.8,510 596.4,509.2 603,507.7 610.9,507.3 645.7,507.1 646.9,508.5 651.7,508.5 654.2,509.7 657.8,509.7 661.4,511.9 666.2,514.1 672.3,514.9 674.7,516.1 729,516.1 733.9,520.4 738.7,525.8 741.7,527.3 746.1,528.2 752.7,530.1 759.3,531.2 765.9,533.1 771.4,533.9 774.6,536.1 779,542.1 782.3,546 786.7,548.7 789.5,550.2"/>
<polyline shape-rendering="crispEdges" fill="none" stroke="#4ab4e6" stroke-width="1.15" points="116.9,628.2 125.65,653.3 134.4,649.8 143.15,649.8 151.9,647.1 160.66,657.3 169.41,643.3 178.16,637.5 186.91,653.3 195.66,649.8 204.41,645 213.16,639.8 221.91,652.1 230.66,649.8 239.41,663.3 248.16,637.5 256.92,667.3 265.67,651 274.42,707.7 283.17,711.8 291.92,713.9 300.67,704.8 309.42,713.9 318.17,709.5 326.92,710.9 335.67,701.2 344.43,660.3 353.18,656.3 361.93,660.3 370.68,663.5 379.43,679.6 388.18,664.7 396.93,657.7 405.68,653.3 414.43,663 423.18,673.5 431.94,669.1 440.69,657.7 449.44,646.3 458.19,640.1 466.94,652.8 475.69,632.7 484.44,624.7 493.19,621.7 501.94,626.1 510.69,622.6 519.45,618.5 528.2,637.1 536.95,637.1 545.7,628.7 554.45,654.5 563.2,659 571.95,666.1 580.7,655 589.45,651 598.2,642.2 606.96,642.2 615.71,637.5 624.46,643.6 633.21,645.7 641.96,648 650.71,652.4 659.46,661.2 668.21,669.6 676.96,659.8 685.71,655.9 694.47,652.1 703.22,654.5 711.97,654.6 720.72,653.2 729.47,657.8 738.22,707.4 746.97,679 755.72,668.5 764.47,676 773.22,680.5 781.98,713.8 790.73,693.2"/>
<text transform="translate(107.6,29.6) scale(0.96,1)" fill="#3a3f4e" font-size="16.2" text-anchor="end" font-weight="normal" font-family='"Liberation Sans", Arial, sans-serif' >5127.92</text>
<text transform="translate(830.2,29.6) scale(0.96,1)" fill="#3a3f4e" font-size="16.2" text-anchor="start" font-weight="normal" font-family='"Liberation Sans", Arial, sans-serif' >5127.92</text>
<text transform="translate(107.6,98.9) scale(0.96,1)" fill="#3a3f4e" font-size="16.2" text-anchor="end" font-weight="normal" font-family='"Liberation Sans", Arial, sans-serif' >5080.21</text>
<text transform="translate(830.2,98.9) scale(0.96,1)" fill="#3a3f4e" font-size="16.2" text-anchor="start" font-weight="normal" font-family='"Liberation Sans", Arial, sans-serif' >5080.21</text>
<text transform="translate(107.6,168.5) scale(0.96,1)" fill="#3a3f4e" font-size="16.2" text-anchor="end" font-weight="normal" font-family='"Liberation Sans", Arial, sans-serif' >5032.50</text>
<text transform="translate(830.2,168.5) scale(0.96,1)" fill="#3a3f4e" font-size="16.2" text-anchor="start" font-weight="normal" font-family='"Liberation Sans", Arial, sans-serif' >5032.50</text>
<text transform="translate(107.6,238.3) scale(0.96,1)" fill="#3a3f4e" font-size="16.2" text-anchor="end" font-weight="normal" font-family='"Liberation Sans", Arial, sans-serif' >4984.79</text>
<text transform="translate(830.2,238.3) scale(0.96,1)" fill="#3a3f4e" font-size="16.2" text-anchor="start" font-weight="normal" font-family='"Liberation Sans", Arial, sans-serif' >4984.79</text>
<text transform="translate(107.6,307.6) scale(0.96,1)" fill="#3a3f4e" font-size="16.2" text-anchor="end" font-weight="normal" font-family='"Liberation Sans", Arial, sans-serif' >4937.08</text>
<text transform="translate(830.2,307.6) scale(0.96,1)" fill="#3a3f4e" font-size="16.2" text-anchor="start" font-weight="normal" font-family='"Liberation Sans", Arial, sans-serif' >4937.08</text>
<text transform="translate(107.6,377.1) scale(0.96,1)" fill="#3a3f4e" font-size="16.2" text-anchor="end" font-weight="normal" font-family='"Liberation Sans", Arial, sans-serif' >4889.36</text>
<text transform="translate(830.2,377.1) scale(0.96,1)" fill="#3a3f4e" font-size="16.2" text-anchor="start" font-weight="normal" font-family='"Liberation Sans", Arial, sans-serif' >4889.36</text>
<text transform="translate(107.6,473.3) scale(0.96,1)" fill="#3a3f4e" font-size="16.2" text-anchor="end" font-weight="normal" font-family='"Liberation Sans", Arial, sans-serif' >20.62</text>
<text transform="translate(830.2,473.3) scale(0.96,1)" fill="#3a3f4e" font-size="16.2" text-anchor="start" font-weight="normal" font-family='"Liberation Sans", Arial, sans-serif' >20.62</text>
<text transform="translate(107.6,503.3) scale(0.96,1)" fill="#3a3f4e" font-size="16.2" text-anchor="end" font-weight="normal" font-family='"Liberation Sans", Arial, sans-serif' >5.84</text>
<text transform="translate(830.2,503.3) scale(0.96,1)" fill="#3a3f4e" font-size="16.2" text-anchor="start" font-weight="normal" font-family='"Liberation Sans", Arial, sans-serif' >5.84</text>
<text transform="translate(107.6,533.3) scale(0.96,1)" fill="#3a3f4e" font-size="16.2" text-anchor="end" font-weight="normal" font-family='"Liberation Sans", Arial, sans-serif' >-8.94</text>
<text transform="translate(830.2,533.3) scale(0.96,1)" fill="#3a3f4e" font-size="16.2" text-anchor="start" font-weight="normal" font-family='"Liberation Sans", Arial, sans-serif' >-8.94</text>
<text transform="translate(107.6,563.3) scale(0.96,1)" fill="#3a3f4e" font-size="16.2" text-anchor="end" font-weight="normal" font-family='"Liberation Sans", Arial, sans-serif' >-23.71</text>
<text transform="translate(830.2,563.3) scale(0.96,1)" fill="#3a3f4e" font-size="16.2" text-anchor="start" font-weight="normal" font-family='"Liberation Sans", Arial, sans-serif' >-23.71</text>
<text transform="translate(107.6,622.3) scale(0.96,1)" fill="#3a3f4e" font-size="16.2" text-anchor="end" font-weight="normal" font-family='"Liberation Sans", Arial, sans-serif' >60.91</text>
<text transform="translate(830.2,622.3) scale(0.96,1)" fill="#3a3f4e" font-size="16.2" text-anchor="start" font-weight="normal" font-family='"Liberation Sans", Arial, sans-serif' >60.91</text>
<text transform="translate(107.6,654.5) scale(0.96,1)" fill="#3a3f4e" font-size="16.2" text-anchor="end" font-weight="normal" font-family='"Liberation Sans", Arial, sans-serif' >49.28</text>
<text transform="translate(830.2,654.5) scale(0.96,1)" fill="#3a3f4e" font-size="16.2" text-anchor="start" font-weight="normal" font-family='"Liberation Sans", Arial, sans-serif' >49.28</text>
<text transform="translate(107.6,686.8) scale(0.96,1)" fill="#3a3f4e" font-size="16.2" text-anchor="end" font-weight="normal" font-family='"Liberation Sans", Arial, sans-serif' >37.65</text>
<text transform="translate(830.2,686.8) scale(0.96,1)" fill="#3a3f4e" font-size="16.2" text-anchor="start" font-weight="normal" font-family='"Liberation Sans", Arial, sans-serif' >37.65</text>
<text transform="translate(114,15.5) scale(1,1)" fill="#222" font-size="14.6" text-anchor="start" font-weight="500" font-family='"Liberation Sans", "Noto Sans CJK SC", sans-serif' >现货黄金</text>
<text transform="translate(169.6,17) scale(1.3,1)" fill="#ff8a00" font-size="15" text-anchor="start" font-weight="normal" font-family='"Liberation Sans", "Noto Sans CJK SC", sans-serif' >【</text>
<text transform="translate(188.6,16.3) scale(0.96,1)" fill="#ff8a00" font-size="16.2" text-anchor="start" font-weight="normal" font-family='"Liberation Sans", Arial, sans-serif' >60</text>
<text transform="translate(205.4,16.4) scale(1,1)" fill="#ff8a00" font-size="16" text-anchor="start" font-weight="normal" font-family='"Liberation Sans", "Noto Sans CJK SC", sans-serif' >分</text>
<text transform="translate(221.9,17) scale(1.3,1)" fill="#ff8a00" font-size="15" text-anchor="start" font-weight="normal" font-family='"Liberation Sans", "Noto Sans CJK SC", sans-serif' >】</text>
<circle cx="242.2" cy="12.2" r="5.2" fill="none" stroke="#ff9b2e" stroke-width="1.1"/>
<line x1="236.8" y1="12.2" x2="247.6" y2="12.2" stroke="#ff8a00" stroke-width="1.1"/>
<line x1="242.2" y1="7" x2="242.2" y2="17.4" stroke="#ffc68a" stroke-width="1"/>
<rect x="258.5" y="0.8" width="13.6" height="14.4" rx="1.2" fill="#fff" stroke="#2b2f86" stroke-width="1.6"/>
<polyline fill="none" stroke="#f03030" stroke-width="1" points="259.5,9 263,4 266,7.5 271,4.5"/>
<polyline fill="none" stroke="#2040ff" stroke-width="1" points="259.5,12.5 263.5,8 266.5,11 271,8.5"/>
<text transform="translate(276.3,16.3) scale(0.96,1)" fill="#333" font-size="16.2" text-anchor="start" font-weight="normal" font-family='"Liberation Sans", Arial, sans-serif' >MA(100,0,0,0,0,0)</text>
<text transform="translate(404.8,16.3) scale(0.98,1)" fill="#5b9ef5" font-size="16.2" text-anchor="start" font-weight="normal" font-family='"Liberation Sans", Arial, sans-serif' >MA100:5013.42</text>
<text transform="translate(525.6,16.3) scale(0.97,1)" fill="#5dc790" font-size="16.2" text-anchor="start" font-weight="normal" font-family='"Liberation Sans", Arial, sans-serif' >MA0:4910.03</text>
<text transform="translate(629.6,16.3) scale(0.96,1)" fill="#59b2ee" font-size="16.2" text-anchor="start" font-weight="normal" font-family='"Liberation Sans", Arial, sans-serif' >MA</text>
<rect x="748" y="0.3" width="16.2" height="16.1" fill="#fff" stroke="#2a7fd8" stroke-width="1.1"/>
<rect x="768" y="0.3" width="16.2" height="16.1" fill="#fff" stroke="#2a7fd8" stroke-width="1.1"/>
<rect x="787.9" y="0.3" width="16.2" height="16.1" fill="#fff" stroke="#2a7fd8" stroke-width="1.1"/>
<rect x="808.1" y="0.3" width="16.2" height="16.1" fill="#fff" stroke="#2a7fd8" stroke-width="1.1"/>
<g fill="#2a7fd8"><rect x="749.5" y="7.5" width="4" height="2"/><rect x="758.5" y="7.5" width="4" height="2"/><rect x="755" y="7.8" width="1.6" height="1.6"/><rect x="755" y="2" width="1.8" height="4"/><rect x="755" y="11" width="1.8" height="4"/></g>
<g fill="#2a7fd8"><rect x="770.5" y="2.5" width="1.4" height="12"/><rect x="770.5" y="12.8" width="12" height="1.2"/><rect x="774" y="4" width="1.4" height="7"/><polygon points="780.5,4 776,7.5 780.5,11"/><polygon points="769.6,4 771.2,2 772.8,4"/><polygon points="781,11.8 783.2,13.4 781,15"/></g>
<g fill="#2a7fd8"><rect x="790.5" y="2.5" width="1.4" height="12"/><rect x="790.5" y="12.8" width="12" height="1.2"/><rect x="793.5" y="4" width="1.4" height="7"/><polygon points="795.5,4 801,7.5 795.5,11"/><polygon points="789.6,4 791.2,2 792.8,4"/><polygon points="801,11.8 803.2,13.4 801,15"/></g>
<g><rect x="810" y="2.8" width="3.4" height="11.2" fill="none" stroke="#2a7fd8" stroke-width="1.2"/><rect x="814" y="7" width="5" height="2.4" fill="#2a7fd8"/><polygon points="818.5,4.5 822.5,8.2 818.5,12" fill="#2a7fd8"/></g>
<text transform="translate(131.2,63) scale(0.96,1)" fill="#f0506a" font-size="15.8" text-anchor="start" font-weight="bold" font-family='"Liberation Sans", Arial, sans-serif' >5099.26</text>
<text transform="translate(507.7,140.6) scale(0.96,1)" fill="#f0506a" font-size="15.8" text-anchor="start" font-weight="bold" font-family='"Liberation Sans", Arial, sans-serif' >5046.08</text>
<text transform="translate(280.1,404.1) scale(0.96,1)" fill="#52b788" font-size="15.8" text-anchor="start" font-weight="bold" font-family='"Liberation Sans", Arial, sans-serif' >4877.75</text>
<text transform="translate(714.1,430.6) scale(0.96,1)" fill="#52b788" font-size="15.8" text-anchor="start" font-weight="bold" font-family='"Liberation Sans", Arial, sans-serif' >4860.38</text>
<rect x="826.5" y="343.9" width="90" height="21" fill="#fff" stroke="#ff8a1e" stroke-width="1.3"/>
<text transform="translate(830.2,359.6) scale(0.96,1)" fill="#ff8a1e" font-size="16.2" text-anchor="start" font-weight="normal" font-family='"Liberation Sans", Arial, sans-serif' >4910.04</text>
<polygon points="906,333.1 901,337.9 911,337.9" fill="#ff8a1e"/><polygon points="906,338.3 901,343.4 911,343.4" fill="#ff8a1e"/>
<text transform="translate(114.6,459) scale(0.94,1)" fill="#333" font-size="16.2" text-anchor="start" font-weight="normal" font-family='"Liberation Sans", Arial, sans-serif' >MACD(26,12,9)</text>
<text transform="translate(226.2,459) scale(0.92,1)" fill="#5b9ef5" font-size="16.2" text-anchor="start" font-weight="normal" font-family='"Liberation Sans", Arial, sans-serif' >DIFF:-19.49</text>
<text transform="translate(315.6,459) scale(0.96,1)" fill="#5dc790" font-size="16.2" text-anchor="start" font-weight="normal" font-family='"Liberation Sans", Arial, sans-serif' >DEA:-11.04</text>
<text transform="translate(405.2,459) scale(0.97,1)" fill="#59b2ee" font-size="16.2" text-anchor="start" font-weight="normal" font-family='"Liberation Sans", Arial, sans-serif' >MACD:-16.90</text>
<text transform="translate(114.5,608.3) scale(0.92,1)" fill="#333" font-size="16.2" text-anchor="start" font-weight="normal" font-family='"Liberation Sans", Arial, sans-serif' >RSI(14,14,14)</text>
<text transform="translate(212.6,608.3) scale(0.92,1)" fill="#5b9ef5" font-size="16.2" text-anchor="start" font-weight="normal" font-family='"Liberation Sans", Arial, sans-serif' >RSI1:34.08</text>
<text transform="translate(296.7,608.3) scale(0.92,1)" fill="#5dc790" font-size="16.2" text-anchor="start" font-weight="normal" font-family='"Liberation Sans", Arial, sans-serif' >RSI2:34.08</text>
<text transform="translate(382.5,608.3) scale(0.92,1)" fill="#59b2ee" font-size="16.2" text-anchor="start" font-weight="normal" font-family='"Liberation Sans", Arial, sans-serif' >RSI3:34.08</text>
<g><circle cx="35" cy="598.8" r="4.3" fill="none" stroke="#1a1a1a" stroke-width="1.2"/><circle cx="35" cy="598.8" r="2.6" fill="#ff0a0a"/><g stroke="#ff1a1a" stroke-width="1.4"><line x1="41" y1="598.8" x2="43.6" y2="598.8"/><line x1="39.81" y1="603.61" x2="42" y2="605.8"/><line x1="35" y1="604.8" x2="35" y2="607.4"/><line x1="30.19" y1="603.61" x2="28" y2="605.8"/><line x1="29" y1="598.8" x2="26.4" y2="598.8"/><line x1="30.19" y1="593.99" x2="28" y2="591.8"/><line x1="35" y1="592.8" x2="35" y2="590.2"/><line x1="39.81" y1="593.99" x2="42" y2="591.8"/></g></g>
<rect x="265.5" y="714" width="1" height="7.5" fill="#b8bec8"/>
<text transform="translate(267.7,730.2) scale(0.96,1)" fill="#333" font-size="15" text-anchor="start" font-weight="bold" font-family='"Liberation Sans", Arial, sans-serif' >02/13</text>
<rect x="466.5" y="714" width="1" height="7.5" fill="#b8bec8"/>
<text transform="translate(468.7,730.2) scale(0.96,1)" fill="#333" font-size="15" text-anchor="start" font-weight="bold" font-family='"Liberation Sans", Arial, sans-serif' >02/14</text>
<rect x="667.5" y="714" width="1" height="7.5" fill="#b8bec8"/>
<text transform="translate(669.7,730.2) scale(0.96,1)" fill="#333" font-size="15" text-anchor="start" font-weight="bold" font-family='"Liberation Sans", Arial, sans-serif' >02/17</text>
<text transform="translate(41,732.4) scale(0.96,1)" fill="#ff8000" font-size="15" text-anchor="start" font-weight="bold" font-family='"Liberation Sans", Arial, sans-serif' >60</text>
<text transform="translate(58.3,732.4) scale(1,1)" fill="#ff8000" font-size="15" text-anchor="start" font-weight="bold" font-family='"Liberation Sans", "Noto Sans CJK SC", sans-serif' >分</text>
<text transform="translate(77.3,732.6) scale(1.11,1)" fill="#ff8000" font-size="15.7" text-anchor="start" font-weight="normal" font-family='"Liberation Sans", "Noto Sans CJK SC", sans-serif' >▲</text>
<text x="783" y="712" font-size="32" font-family='"Liberation Sans", Arial, sans-serif' letter-spacing="1" fill="#b9a89a" opacity="0.9">FX678</text>
<text x="781.8" y="710.8" font-size="32" font-family='"Liberation Sans", Arial, sans-serif' letter-spacing="1" fill="#dce8f6">FX678</text>
</svg>
<svg width="24" height="270" style="position:absolute;left:0;top:0"><text x="11.2" y="14.25" fill="#3a4150" font-size="15.5" text-anchor="middle" dominant-baseline="central" font-family='"Liberation Sans", "Noto Sans CJK SC", sans-serif'>分</text><text x="11.2" y="31.75" fill="#3a4150" font-size="15.5" text-anchor="middle" dominant-baseline="central" font-family='"Liberation Sans", "Noto Sans CJK SC", sans-serif'>时</text><text x="11.2" y="49.4" fill="#3a4150" font-size="15.5" text-anchor="middle" dominant-baseline="central" font-family='"Liberation Sans", "Noto Sans CJK SC", sans-serif'>图</text><text x="11.2" y="136.5" fill="#3a4150" font-size="15.5" text-anchor="middle" dominant-baseline="central" font-family='"Liberation Sans", "Noto Sans CJK SC", sans-serif'>闪</text><text x="11.2" y="154.2" fill="#3a4150" font-size="15.5" text-anchor="middle" dominant-baseline="central" font-family='"Liberation Sans", "Noto Sans CJK SC", sans-serif'>电</text><text x="11.2" y="171.6" fill="#3a4150" font-size="15.5" text-anchor="middle" dominant-baseline="central" font-family='"Liberation Sans", "Noto Sans CJK SC", sans-serif'>图</text><text x="11.2" y="201.9" fill="#3a4150" font-size="15.5" text-anchor="middle" dominant-baseline="central" font-family='"Liberation Sans", "Noto Sans CJK SC", sans-serif'>合</text><text x="11.2" y="219.25" fill="#3a4150" font-size="15.5" text-anchor="middle" dominant-baseline="central" font-family='"Liberation Sans", "Noto Sans CJK SC", sans-serif'>约</text><text x="11.2" y="236" fill="#3a4150" font-size="15.5" text-anchor="middle" dominant-baseline="central" font-family='"Liberation Sans", "Noto Sans CJK SC", sans-serif'>资</text><text x="11.2" y="253.9" fill="#3a4150" font-size="15.5" text-anchor="middle" dominant-baseline="central" font-family='"Liberation Sans", "Noto Sans CJK SC", sans-serif'>料</text><text transform="translate(11.4,76.2) scale(0.78,1)" fill="#fff" font-size="15" text-anchor="middle" dominant-baseline="central" font-family='"Liberation Serif", serif'>K</text><text x="11.2" y="92.5" fill="#fff" font-size="15.5" text-anchor="middle" dominant-baseline="central" font-family='"Liberation Sans", "Noto Sans CJK SC", sans-serif'>线</text><text x="11.2" y="109.9" fill="#fff" font-size="15.5" text-anchor="middle" dominant-baseline="central" font-family='"Liberation Sans", "Noto Sans CJK SC", sans-serif'>图</text></svg>
</body></html>
